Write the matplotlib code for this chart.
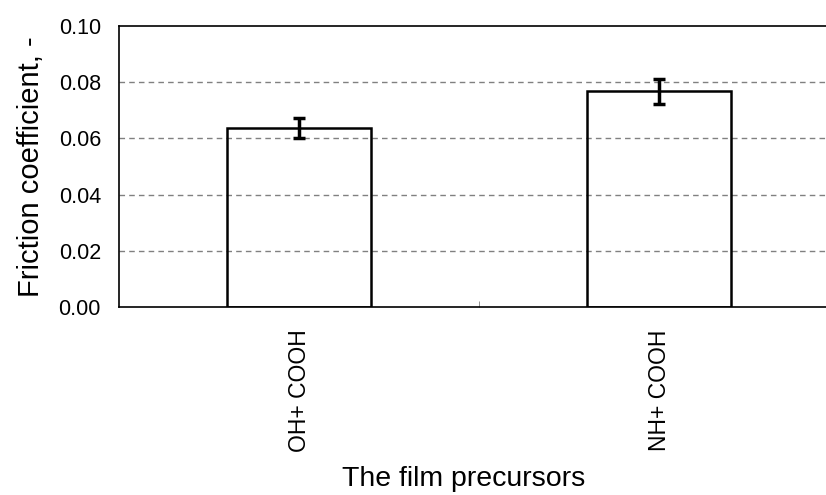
import numpy as np
from matplotlib import pyplot as plt

#
# Data
#
precursors = ['OH+ COOH', 'NH+ COOH']
friction = [0.0637, 0.0767]
friction_err = [0.0037, 0.0046]
yticks = [0.00, 0.02, 0.04, 0.06, 0.08, 0.10]

plt.rcParams['font.family'] = ['Liberation Sans', 'DejaVu Sans']

fig = plt.figure(figsize=(8.26, 4.95), dpi=100)
# right edge of the frame sits just outside the picture, as in the original
ax = fig.add_axes([119/826, 1 - 307/495, 720/826, 281/495])

x = np.arange(len(precursors))
ax.bar(x, friction, width=0.4, fill=False, edgecolor='black', linewidth=1.8, zorder=3)
ax.errorbar(x, friction, yerr=friction_err, fmt='none', ecolor='black',
            elinewidth=2.5, capsize=4, capthick=2.5, zorder=4)

ax.set_xlim(-0.5, 1.5)
ax.set_ylim(0, 0.10)
ax.set_yticks(yticks)
ax.set_yticklabels([f'{v:.2f}' for v in yticks], fontsize=15.5)
ax.tick_params(axis='y', length=0, pad=13)

ax.set_xticks(x)
ax.set_xticklabels(precursors, rotation=90, fontsize=16.5)
ax.tick_params(axis='x', length=0, pad=16)
ax.set_xticks([0.5], minor=True)
ax.tick_params(axis='x', which='minor', direction='in', length=4, color='gray')

for v in yticks[1:-1]:
    ax.axhline(v, color='gray', linestyle=(0, (4, 3)), linewidth=1, zorder=1)

for s in ax.spines.values():
    s.set_linewidth(1.2)

ax.set_ylabel('Friction coefficient, -', fontsize=21, labelpad=10)
ax.set_xlabel('The film precursors', fontsize=20.5)
ax.xaxis.set_label_coords((464 - 119) / 720, -(466 - 307) / 281)

fig.savefig('out.png', dpi=100)
